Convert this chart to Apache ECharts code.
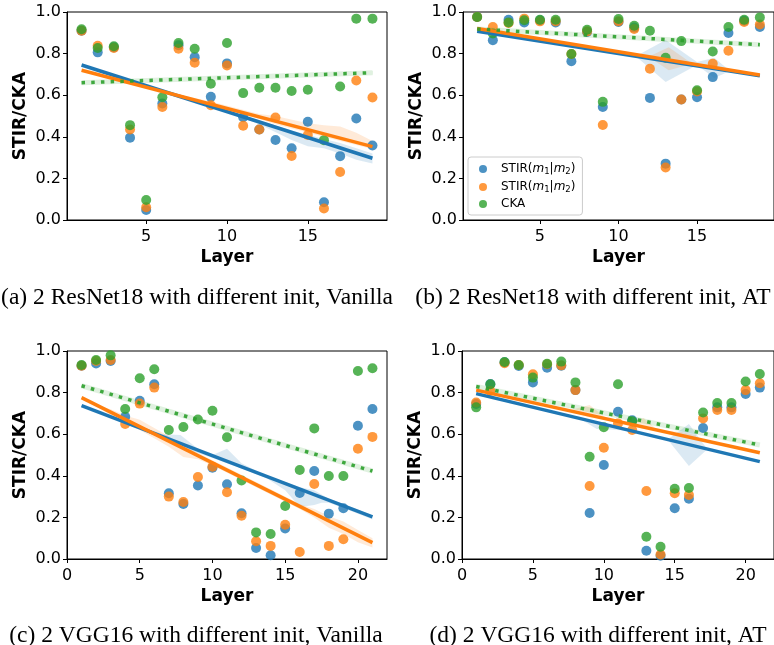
<!DOCTYPE html>
<html><head><meta charset="utf-8">
<script src="https://cdn.jsdelivr.net/npm/echarts@6/dist/echarts.min.js"></script>
<style>html,body{margin:0;padding:0;background:#fff}#c{width:774px;height:645px}</style>
</head><body><div id="c"></div>
<script>
// ---------- categories / ticks ----------
const layersRes = [1,2,3,4,5,6,7,8,9,10,11,12,13,14,15,16,17,18,19];
const layersVgg = [1,2,3,4,5,6,7,8,9,10,11,12,13,14,15,16,17,18,19,20,21];
const xTicksRes = [5,10,15];
const xTicksVgg = [0,5,10,15,20];
const seriesNames = ['STIR12','STIR21','CKA'];
const captions = [
  '(a) 2 ResNet18 with different init, Vanilla',
  '(b) 2 ResNet18 with different init, AT',
  '(c) 2 VGG16 with different init, Vanilla',
  '(d) 2 VGG16 with different init, AT'
];

// ---------- (a) ResNet18, Vanilla ----------
const aStir12 = [0.91,0.806,0.83,0.396,0.048,0.56,0.84,0.783,0.592,0.753,0.494,0.435,0.385,0.345,0.472,0.085,0.307,0.488,0.358];
const aStir21 = [0.91,0.838,0.827,0.435,0.061,0.543,0.823,0.756,0.552,0.743,0.453,0.435,0.493,0.308,0.409,0.055,0.231,0.671,0.589];
const aCka    = [0.917,0.827,0.835,0.456,0.096,0.59,0.851,0.823,0.655,0.851,0.61,0.636,0.636,0.62,0.626,0.384,0.642,0.968,0.968];
const aTrendStir12 = [0.745,0.297];   // fit at first / last layer
const aTrendStir21 = [0.72,0.353];
const aTrendCka    = [0.66,0.708];
const aBandStir12 = [[10,0.521,0.521],[12,0.46,0.48],[14,0.385,0.43],[15,0.355,0.41],[16,0.345,0.39],[17,0.32,0.37],[18,0.29,0.345],[19,0.272,0.32]];
const aBandStir21 = [[6,0.62,0.62],[9,0.55,0.57],[12,0.485,0.51],[13,0.46,0.5],[15,0.42,0.465],[16,0.40,0.455],[17,0.38,0.45],[18,0.36,0.42],[19,0.34,0.38]];

// ---------- (b) ResNet18, AT ----------
const bStir12 = [0.976,0.864,0.963,0.95,0.96,0.95,0.763,0.904,0.543,0.952,0.925,0.587,0.271,0.579,0.59,0.687,0.899,0.958,0.928];
const bStir21 = [0.976,0.928,0.947,0.968,0.955,0.955,0.798,0.907,0.457,0.955,0.918,0.727,0.252,0.579,0.618,0.751,0.814,0.952,0.94];
const bCka    = [0.976,0.897,0.95,0.96,0.963,0.963,0.798,0.915,0.568,0.966,0.934,0.91,0.78,0.86,0.624,0.81,0.928,0.963,0.974];
const bTrendStir12 = [0.907,0.693];
const bTrendStir21 = [0.921,0.697];
const bTrendCka    = [0.918,0.843];
const bBandStir12 = [[11.1,0.787,0.787],[13,0.663,0.865],[15,0.745,0.76],[16.1,0.683,0.78],[17.1,0.716,0.716]];
const bBandStir21 = [[11.9,0.785,0.785],[13.2,0.72,0.83],[14.7,0.751,0.751],[16,0.73,0.745],[17,0.72,0.722]];

// ---------- (c) VGG16, Vanilla ----------
const cStir12 = [0.929,0.94,0.952,0.684,0.761,0.84,0.316,0.264,0.353,0.439,0.359,0.22,0.053,0.018,0.147,0.317,0.423,0.218,0.244,0.641,0.721];
const cStir21 = [0.929,0.952,0.957,0.649,0.747,0.824,0.30,0.274,0.394,0.444,0.321,0.208,0.085,0.063,0.165,0.034,0.361,0.063,0.095,0.53,0.587];
const cCka    = [0.933,0.957,0.979,0.721,0.869,0.912,0.62,0.635,0.671,0.713,0.585,0.377,0.128,0.12,0.255,0.428,0.628,0.399,0.399,0.904,0.917];
const cTrendStir12 = [0.737,0.202];
const cTrendStir21 = [0.776,0.079];
const cTrendCka    = [0.833,0.423];
const cBandStir12 = [[5,0.63,0.64],[6.6,0.575,0.6],[7.8,0.54,0.596],[9,0.51,0.53],[10,0.485,0.50],[11,0.46,0.53],[12,0.435,0.46],[13.7,0.39,0.40],[15,0.33,0.37],[16,0.25,0.345],[17,0.26,0.33],[17.5,0.27,0.31],[18,0.27,0.29],[19,0.245,0.265],[21,0.19,0.21]];
const cBandStir21 = [[2,0.74,0.742],[3,0.69,0.72],[4,0.65,0.69],[5,0.62,0.67],[6,0.58,0.63],[7,0.54,0.59],[8,0.49,0.545],[9,0.48,0.51],[10,0.45,0.475],[12,0.38,0.405],[14,0.31,0.335],[16,0.24,0.265],[17,0.2,0.24],[18,0.15,0.205],[19,0.12,0.18],[20,0.08,0.14],[21,0.055,0.10]];

// ---------- (d) VGG16, AT ----------
const dStir12 = [0.745,0.841,0.946,0.928,0.849,0.92,0.929,0.812,0.221,0.452,0.708,0.667,0.04,0.016,0.244,0.29,0.63,0.729,0.729,0.793,0.824];
const dStir21 = [0.752,0.808,0.941,0.933,0.888,0.936,0.931,0.812,0.351,0.535,0.652,0.62,0.327,0.022,0.316,0.308,0.676,0.716,0.716,0.812,0.845];
const dCka    = [0.729,0.84,0.947,0.933,0.872,0.939,0.949,0.849,0.492,0.633,0.84,0.662,0.107,0.059,0.338,0.341,0.704,0.75,0.75,0.853,0.889];
const dTrendStir12 = [0.795,0.468];
const dTrendStir21 = [0.812,0.511];
const dTrendCka    = [0.829,0.548];
const dBandStir12 = [[8.3,0.676,0.676],[9.5,0.625,0.66],[11,0.62,0.64],[12.1,0.613,0.613],[14.5,0.574,0.574],[16,0.447,0.649],[17.3,0.528,0.528]];
const dBandStir21 = [[7.5,0.714,0.714],[9,0.68,0.74],[10.2,0.675,0.675],[11.8,0.648,0.648],[12.8,0.625,0.678],[13.8,0.619,0.619],[15.5,0.595,0.61],[16.5,0.58,0.595]];

// ---------- styling ----------
const C_BLUE = '#1f77b4', C_ORANGE = '#ff7f0e', C_GREEN = '#2ca02c';
const FONT = 'DejaVu Sans';

const panels = [
  {layers: layersRes, ticks: xTicksRes, min: 0.1, max: 19.9, grid: {left: 67, top: 12, width: 320, height: 208},
   vals: [aStir12, aStir21, aCka], trends: [aTrendStir12, aTrendStir21, aTrendCka], bands: [aBandStir12, aBandStir21]},
  {layers: layersRes, ticks: xTicksRes, min: 0.1, max: 19.9, grid: {left: 463, top: 12, width: 319, height: 208},
   vals: [bStir12, bStir21, bCka], trends: [bTrendStir12, bTrendStir21, bTrendCka], bands: [bBandStir12, bBandStir21]},
  {layers: layersVgg, ticks: xTicksVgg, min: 0, max: 22, grid: {left: 67, top: 351, width: 320, height: 208},
   vals: [cStir12, cStir21, cCka], trends: [cTrendStir12, cTrendStir21, cTrendCka], bands: [cBandStir12, cBandStir21]},
  {layers: layersVgg, ticks: xTicksVgg, min: 0, max: 22, grid: {left: 462, top: 351, width: 320, height: 208},
   vals: [dStir12, dStir21, dCka], trends: [dTrendStir12, dTrendStir21, dTrendCka], bands: [dBandStir12, dBandStir21]}
];
const captionPos = [[192, 281], [588, 281], [191, 619], [593, 619]];

const colors = [C_BLUE, C_ORANGE, C_GREEN];
const grids = [], xAxes = [], yAxes = [], series = [];

function bandSeries(gi, band, color) {
  return {
    type: 'custom', xAxisIndex: gi, yAxisIndex: gi, silent: true, z: 2,
    data: [[band[0][0], band[0][1]]],
    encode: {x: 0, y: 1},
    renderItem: function (params, api) {
      const up = band.map(b => api.coord([b[0], b[2]]));
      const lo = band.slice().reverse().map(b => api.coord([b[0], b[1]]));
      return {type: 'polygon', shape: {points: up.concat(lo)}, style: {fill: color, opacity: 0.16}};
    }
  };
}

panels.forEach((p, gi) => {
  grids.push(Object.assign({show: true, borderColor: '#000', borderWidth: 1, backgroundColor: 'transparent'}, p.grid));
  xAxes.push({
    type: 'value', gridIndex: gi, min: p.min, max: p.max,
    name: 'Layer', nameLocation: 'middle', nameGap: 29,
    nameTextStyle: {fontFamily: FONT, fontWeight: 'bold', fontSize: 17, color: '#000'},
    axisLine: {show: true, onZero: false, lineStyle: {color: '#000', width: 1}},
    axisTick: {show: true, length: 4, lineStyle: {color: '#000'}, customValues: p.ticks},
    axisLabel: {fontFamily: FONT, fontSize: 16, color: '#000', margin: 9, customValues: p.ticks},
    splitLine: {show: false}
  });
  yAxes.push({
    type: 'value', gridIndex: gi, min: 0, max: 1, interval: 0.2,
    name: 'STIR/CKA', nameLocation: 'middle', nameGap: 38, nameRotate: 90,
    nameTextStyle: {fontFamily: FONT, fontWeight: 'bold', fontSize: 17, color: '#000'},
    axisLine: {show: true, onZero: false, lineStyle: {color: '#000', width: 1}},
    axisTick: {show: true, length: 4, lineStyle: {color: '#000'}},
    axisLabel: {fontFamily: FONT, fontSize: 16, color: '#000', margin: 6, formatter: v => v.toFixed(1)},
    splitLine: {show: false}
  });
  // scatter + bands (matplotlib collections)
  for (let k = 0; k < 3; k++) {
    series.push({
      type: 'scatter', name: seriesNames[k], xAxisIndex: gi, yAxisIndex: gi, z: 2,
      symbolSize: 10, itemStyle: {color: colors[k], opacity: 0.8},
      data: p.layers.map((x, i) => [x, p.vals[k][i]]), silent: true
    });
    if (k < 2) series.push(bandSeries(gi, p.bands[k], colors[k]));
  }
  const x0 = p.layers[0], x1 = p.layers[p.layers.length - 1];
  // faint CKA band
  series.push({
    type: 'line', xAxisIndex: gi, yAxisIndex: gi, z: 2, symbol: 'none', silent: true,
    data: [[x0, p.trends[2][0]], [x1, p.trends[2][1]]],
    lineStyle: {color: C_GREEN, width: 5, opacity: 0.15}
  });
  // regression lines (matplotlib lines, on top)
  for (let k = 0; k < 3; k++) {
    series.push({
      type: 'line', xAxisIndex: gi, yAxisIndex: gi, z: 3, symbol: 'none', silent: true,
      data: [[x0, p.trends[k][0]], [x1, p.trends[k][1]]],
      lineStyle: k < 2 ? {color: colors[k], width: 3.5, cap: 'butt'}
                       : {color: C_GREEN, width: 3.5, type: [3.5, 6.2], cap: 'butt', opacity: 0.9}
    });
  }
});

const titles = captions.map((t, i) => ({
  text: t, left: captionPos[i][0], top: captionPos[i][1], textAlign: 'center',
  textStyle: {fontFamily: 'Liberation Serif', fontWeight: 'normal', fontSize: 23.5, color: '#000'}
}));

const richBase = {fontFamily: FONT, fontSize: 12, color: '#000', lineHeight: 14};
const legendLabels = {
  STIR12: '{sp|}{a|STIR(}{i|m}{s|1}{a||}{i|m}{s|2}{a|)}',
  STIR21: '{sp|}{a|STIR(}{i|m}{s|1}{a||}{i|m}{s|2}{a|)}',
  CKA: '{sp|}{a|CKA}'
};

const chart = echarts.init(document.getElementById('c'), null, {renderer: 'canvas'});
chart.setOption({
  animation: false,
  backgroundColor: '#fff',
  title: titles,
  grid: grids, xAxis: xAxes, yAxis: yAxes,
  legend: {
    data: seriesNames, orient: 'vertical', left: 468, top: 157,
    itemWidth: 8, itemHeight: 8, itemGap: 4, icon: 'circle',
    padding: [5, 7, 5, 11],
    backgroundColor: 'rgba(255,255,255,0.8)', borderColor: '#cccccc', borderWidth: 1, borderRadius: 3,
    formatter: n => legendLabels[n],
    textStyle: {
      fontFamily: FONT, fontSize: 12, color: '#000',
      rich: {
        sp: {width: 9},
        a: richBase,
        i: Object.assign({}, richBase, {fontStyle: 'italic'}),
        s: {fontFamily: FONT, fontSize: 8.5, color: '#000', lineHeight: 14, verticalAlign: 'bottom', padding: [5, 0, 0, 0]}
      }
    }
  },
  series: series
});
</script></body></html>
